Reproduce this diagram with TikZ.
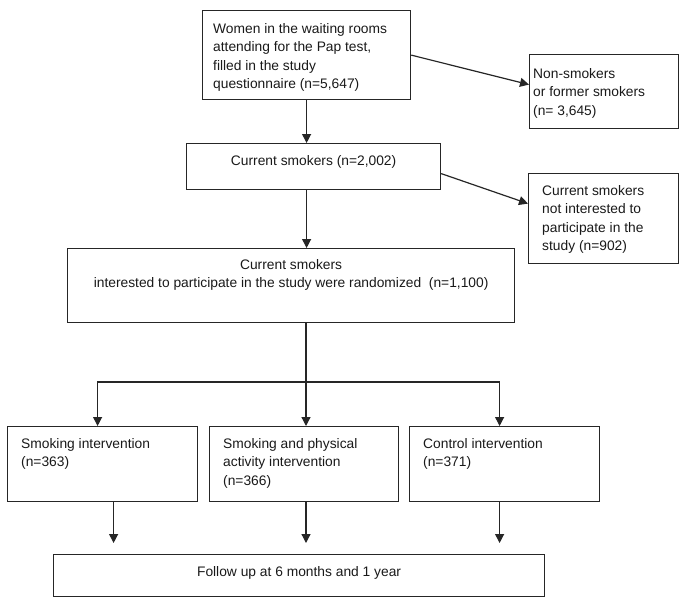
\documentclass[tikz,border=0pt]{standalone}
\usepackage{fontspec}
\setmainfont{Liberation Sans}
\usetikzlibrary{arrows.meta}

\begin{document}
\begin{tikzpicture}[
x=1pt,y=-1pt,
stage/.style={
  draw=black!85,
  line width=1.2pt,
  anchor=north west,
  inner sep=0pt
},
note/.style={
  inner sep=0pt,
  text=black!90,
  font=\fontsize{13.8}{18.5}\selectfont
},
flow/.style={
  draw=black!85,
  line width=1.2pt,
  -{Triangle[length=9pt,width=9pt]}
}
]
\useasboundingbox (0,0) rectangle (685,606);

% boxes
\node[stage,minimum width=208pt,minimum height=89pt] (women) at (202,10) {};
\node[stage,minimum width=149pt,minimum height=74pt] (nonsmk) at (529,54) {};
\node[stage,minimum width=254pt,minimum height=46pt] (smk) at (186,143) {};
\node[stage,minimum width=150pt,minimum height=90pt] (notint) at (528,173) {};
\node[stage,minimum width=447pt,minimum height=74pt] (rand) at (67,248) {};
\node[stage,minimum width=190pt,minimum height=75pt] (smkint) at (7,426) {};
\node[stage,minimum width=189pt,minimum height=75pt] (smkpa) at (209,426) {};
\node[stage,minimum width=190pt,minimum height=75pt] (ctrl) at (409,426) {};
\node[stage,minimum width=491pt,minimum height=42pt] (follow) at (53,554) {};

% texts
\node[note,anchor=north west,align=left] (womentxt) at ([shift={(11,13)}]women.north west)
  {Women in the waiting rooms\\attending for the Pap test,\\filled in the study\\questionnaire (n=5,647)};
\node[note,anchor=north west,align=left] (nonsmktxt) at ([shift={(4,14)}]nonsmk.north west)
  {Non-smokers\\or former smokers\\(n= 3,645)};
\node[note,anchor=north] (smktxt) at ([shift={(0,12)}]smk.north)
  {Current smokers (n=2,002)};
\node[note,anchor=north west,align=left] (notinttxt) at ([shift={(14,12)}]notint.north west)
  {Current smokers\\not interested to\\participate in the\\study (n=902)};
\node[note,anchor=north,align=center] (randtxt) at ([shift={(0,11)}]rand.north)
  {Current smokers\\interested to participate in the study were randomized~ (n=1,100)};
\node[note,anchor=north west,align=left] (smkinttxt) at ([shift={(14,12)}]smkint.north west)
  {Smoking intervention\\(n=363)};
\node[note,anchor=north west,align=left] (smkpatxt) at ([shift={(14,12)}]smkpa.north west)
  {Smoking and physical\\activity intervention\\(n=366)};
\node[note,anchor=north west,align=left] (ctrltxt) at ([shift={(14,12)}]ctrl.north west)
  {Control intervention\\(n=371)};
\node[note,anchor=north] (followtxt) at ([shift={(0,12)}]follow.north)
  {Follow up at 6 months and 1 year};

\coordinate (split) at (306,382);

% connectors
\draw[flow] (women.south) -- (women.south |- smk.north);
\draw[flow] (women.east) -- ([yshift=7pt]nonsmk.west);
\draw[flow] (smk.south -| women.south) -- (rand.north -| women.south);
\draw[flow] ([yshift=-7pt]smk.east) -- ([yshift=15pt]notint.west);
\draw[flow,-] (rand.south -| split) -- (split);
\draw[flow] (split) -| ([xshift=-5pt]smkint.north);
\draw[flow] (split) -- (split |- smkpa.north);
\draw[flow] (split) -| ([xshift=-5pt]ctrl.north);
\draw[flow,shorten >=11pt] ([xshift=11pt]smkint.south) -- ([xshift=11pt]smkint.south |- follow.north);
\draw[flow,shorten >=11pt] (smkpa.south -| split) -- (follow.north -| split);
\draw[flow,shorten >=11pt] ([xshift=-5pt]ctrl.south) -- ([xshift=-5pt]ctrl.south |- follow.north);
\end{tikzpicture}
\end{document}
